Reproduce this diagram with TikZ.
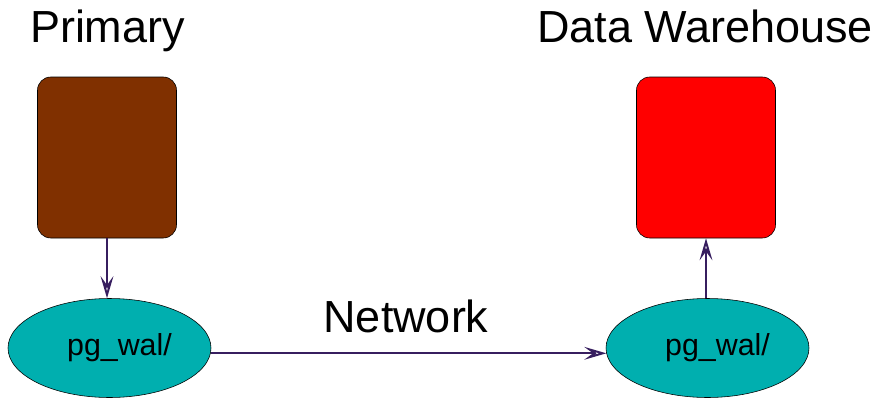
\documentclass[tikz,border=0pt]{standalone}
\usepackage{fontspec}
\setmainfont{Liberation Sans}
\usepackage{tikz}
\usetikzlibrary{shapes.geometric, arrows.meta, positioning}
\definecolor{brownbox}{RGB}{128,48,0}
\definecolor{tealwal}{RGB}{0,175,175}
\definecolor{linkcol}{RGB}{55,30,95}
\tikzstyle{dbbox}=
[
	rectangle
	,rounded corners=0.33cm
	,minimum width=3.475cm
	,minimum height=4.025cm
	,draw=black
	,thin
]
\tikzstyle{walnode}=
[
	draw
	,ellipse
	,fill=tealwal
	,thin
	,minimum width=5.075cm
	,minimum height=2.475cm
	,font=\fontsize{21.6}{26}\selectfont
]
\tikzstyle{title}=
[
	anchor=base
	,font=\fontsize{32}{38}\selectfont
]
\tikzstyle{arrow} = [line width=1.4pt,draw=linkcol,-{Stealth[open,length=5.5mm,width=3.2mm,inset=2.2mm]}]

\begin{document}
\begin{tikzpicture}[node distance=4.7625cm]
\useasboundingbox (0,0) rectangle (22.025,9.975);
\node(prim)[dbbox,fill=brownbox] at (2.675,6.0375){};
\node(dw)[dbbox,fill=red] at (17.65,6.0375){};
\node(pwal)[walnode,below of=prim,xshift=0.0625cm]{\hspace{0.5cm}pg\_wal/};
\node(dwal)[walnode,below of=dw,xshift=0.0375cm]{\hspace{0.5cm}pg\_wal/};
\node(tprim)[title] at (2.6875,8.925){Primary};
\node(tdw)[title] at (17.625,8.925){Data Warehouse};
\node(tnet)[title] at (10.15,1.675){Network};

\draw[arrow](prim.south)--(prim.south|-pwal.north);
\draw[arrow](pwal.-3)--(dwal.183);
\draw[arrow](dw.south|-dwal.north)--(dw.south);

\end{tikzpicture}
\end{document}
